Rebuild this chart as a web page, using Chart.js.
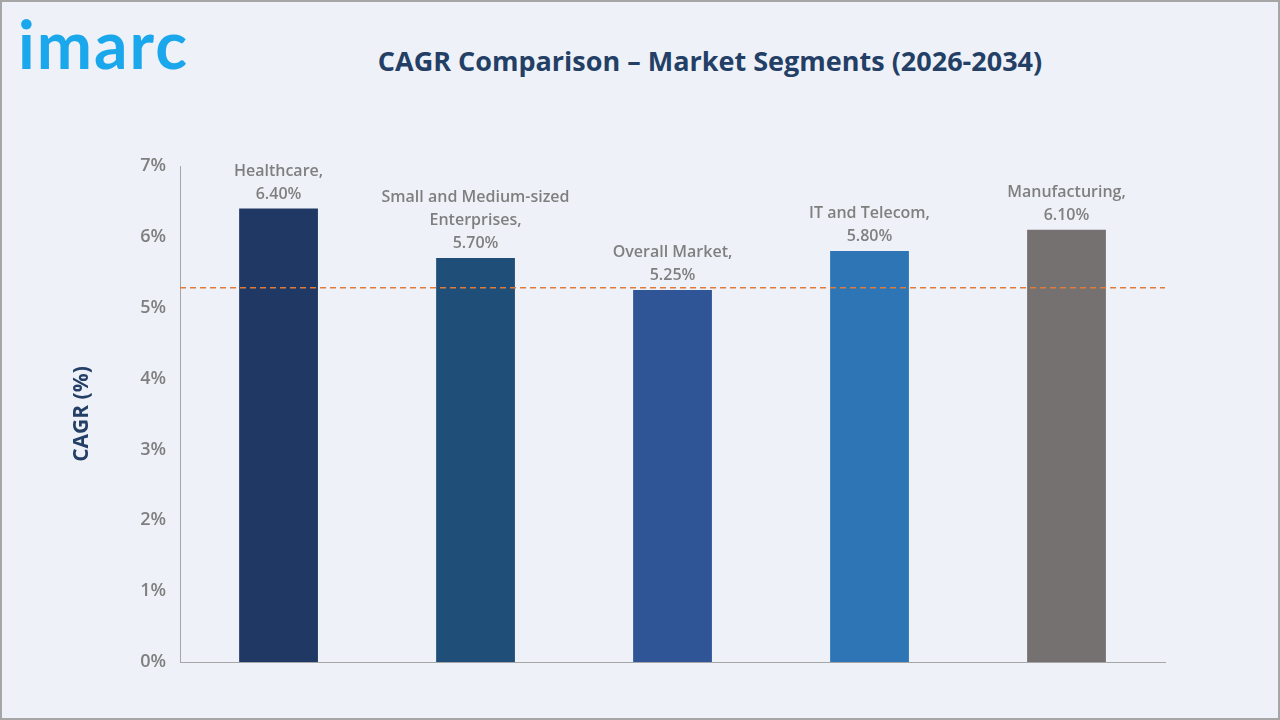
<!DOCTYPE html>
<html>
<head>
<meta charset="utf-8">
<script src="https://cdn.jsdelivr.net/npm/chart.js@4"></script>
<style>
  html, body { margin: 0; padding: 0; }
  body { width: 1280px; height: 720px; background: #eef2f8; position: relative; overflow: hidden; font-family: "Open Sans", sans-serif; }
  .frame { position: absolute; left: 0; top: 0; width: 1276px; height: 716px; border: 2px solid #a6a6a6; }
  .logo { position: absolute; left: 18px; top: 4px; font-family: "Lato", sans-serif; font-size: 66px; font-weight: bold; color: #1aa7ec; letter-spacing: 2px; }
  h1 { position: absolute; left: 0; width: 1420px; top: 42px; margin: 0; text-align: center; font-size: 27px; font-weight: bold; color: #243f66; }
  .chart { position: absolute; left: 0; top: 140px; width: 1280px; height: 540px; }
</style>
</head>
<body>
<div class="frame"></div>
<div class="logo">imarc</div>
<h1>CAGR Comparison – Market Segments (2026-2034)</h1>
<div class="chart"><canvas id="c"></canvas></div>
<script>
const categories = ["Healthcare", "Small and Medium-sized Enterprises", "Overall Market", "IT and Telecom", "Manufacturing"];
const labelLines = [["Healthcare,"], ["Small and Medium-sized", "Enterprises,"], ["Overall Market,"], ["IT and Telecom,"], ["Manufacturing,"]];
const cagr = [6.40, 5.70, 5.25, 5.80, 6.10];
const barColors = ["#203864", "#1f4e79", "#2f5597", "#2e75b6", "#767171"];
const referenceLine = 5.28;
const yTicks = [0, 1, 2, 3, 4, 5, 6, 7];

const extras = {
  id: 'extras',
  afterDatasetsDraw(chart) {
    const ctx = chart.ctx;
    const y = chart.scales.y;
    const area = chart.chartArea;
    const ry = y.getPixelForValue(referenceLine);
    ctx.save();
    ctx.strokeStyle = '#e07b39';
    ctx.lineWidth = 1.5;
    ctx.setLineDash([6, 4]);
    ctx.beginPath();
    ctx.moveTo(area.left, ry);
    ctx.lineTo(area.right, ry);
    ctx.stroke();
    ctx.setLineDash([]);
    ctx.fillStyle = '#7f7f7f';
    ctx.font = '600 16px "Open Sans"';
    ctx.textAlign = 'center';
    chart.getDatasetMeta(0).data.forEach((bar, i) => {
      const lines = labelLines[i].concat([cagr[i].toFixed(2) + '%']);
      let ty = bar.y - 10 - (lines.length - 1) * 23;
      lines.forEach(l => { ctx.fillText(l, bar.x, ty); ty += 23; });
    });
    ctx.restore();
  }
};

new Chart(document.getElementById('c'), {
  type: 'bar',
  data: {
    labels: categories,
    datasets: [{ data: cagr, backgroundColor: barColors, barPercentage: 0.4, categoryPercentage: 1 }]
  },
  options: {
    responsive: true,
    maintainAspectRatio: false,
    animation: false,
    layout: { padding: { left: 65, right: 115, top: 26, bottom: 18 } },
    plugins: { legend: { display: false }, tooltip: { enabled: false } },
    scales: {
      x: {
        grid: { display: false, drawTicks: false },
        border: { color: '#a6a6a6' },
        ticks: { display: false }
      },
      y: {
        min: 0, max: 7,
        afterBuildTicks(s) { s.ticks = yTicks.map(v => ({ value: v })); },
        grid: { display: false, drawOnChartArea: false, drawTicks: true, tickLength: 8, color: '#a6a6a6' },
        border: { color: '#a6a6a6' },
        ticks: { color: '#7f7f7f', font: { size: 18, weight: '600', family: 'Open Sans' }, padding: 6, callback: v => v + '%' },
        title: { display: true, text: 'CAGR (%)', color: '#243f66', font: { size: 21, weight: 'bold', family: 'Open Sans' }, padding: { bottom: 40 } }
      }
    }
  },
  plugins: [extras]
});
</script>
</body>
</html>
